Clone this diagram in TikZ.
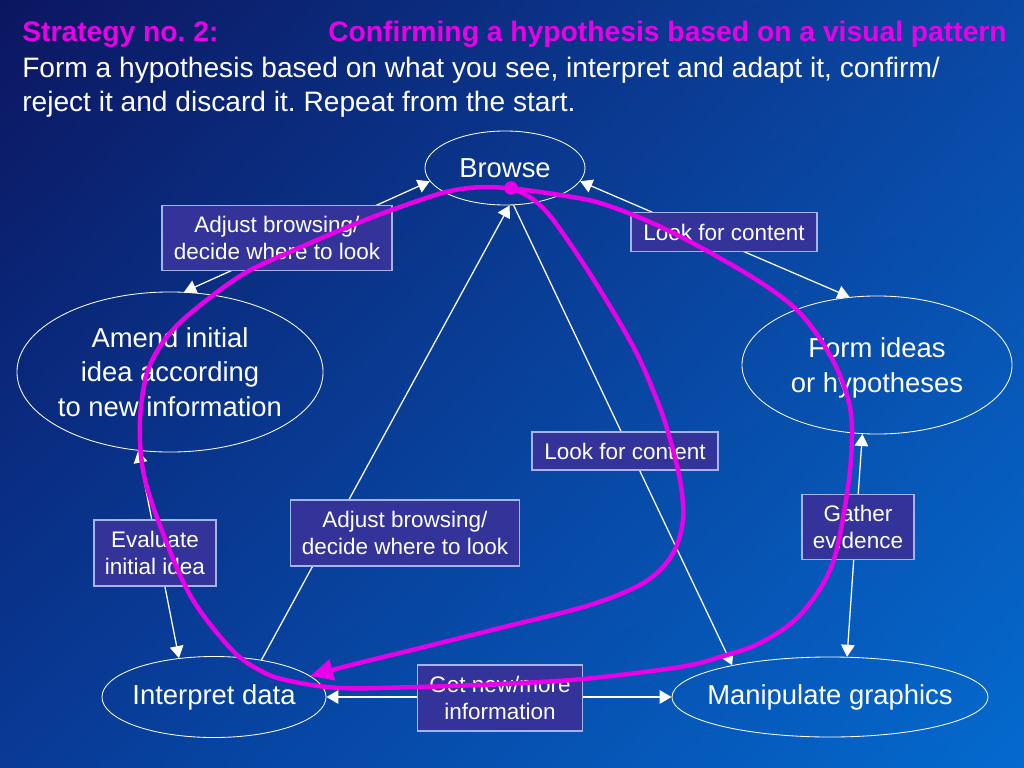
\documentclass[tikz,border=0pt]{standalone}
\usepackage{fontspec}
\setmainfont{Liberation Sans}
\frenchspacing
\usetikzlibrary{arrows.meta,positioning,shapes.geometric,shadings}
\definecolor{slidetl}{RGB}{12,22,96}
\definecolor{slidetr}{RGB}{10,72,165}
\definecolor{slidebl}{RGB}{8,58,150}
\definecolor{slidebr}{RGB}{4,106,206}
\definecolor{tagfill}{RGB}{51,51,153}
\definecolor{tagline}{RGB}{165,180,235}
\definecolor{pathpink}{RGB}{232,0,232}

\begin{document}
\begin{tikzpicture}[x=0.025cm,y=-0.025cm,>={Triangle[length=0.3cm,width=0.34cm]},
  stage/.style={draw=white,line width=0.6pt,ellipse,inner sep=0pt},
  stagetext/.style={text=white,align=center,font=\fontsize{19.5}{24.5}\selectfont},
  tag/.style={draw=tagline,line width=0.8pt,fill=tagfill,text=white,align=center,inner sep=0pt,font=\fontsize{16}{19.5}\selectfont},
  link/.style={white,line width=0.9pt},
  trail/.style={pathpink,line width=3.2pt,line cap=round},
  headline/.style={anchor=base west,inner sep=0pt,font=\fontsize{20}{24}\selectfont}]
\shade[upper left=slidetl,upper right=slidetr,lower left=slidebl,lower right=slidebr] (0,0) rectangle (1024,768);
\useasboundingbox (0,0) rectangle (1024,768);

% heading
\node[headline,text=pathpink,font=\bfseries\fontsize{20.1}{24}\selectfont] (strat) at (22,42) {Strategy no. 2:};
\node[headline,text=pathpink,font=\bfseries\fontsize{20.1}{24}\selectfont] (confirm) at (328,42) {Confirming a hypothesis based on a visual pattern};
\node[headline,text=white] (sub1) at (22,78) {Form a hypothesis based on what you see, interpret and adapt it, confirm/};
\node[headline,text=white] (sub2) at (22,112) {reject it and discard it. Repeat from the start.};

% stages
\node[stage,minimum width=4cm,minimum height=1.85cm,label={[stagetext,name=browsetxt]center:Browse}] (browse) at (505,168) {};
\node[stage,minimum width=7.65cm,minimum height=4cm,label={[stagetext,name=amendtxt]center:Amend initial\\idea according\\to new information}] (amend) at (170,372) {};
\node[stage,minimum width=6.75cm,minimum height=3.45cm,label={[stagetext,name=formtxt,yshift=-2pt]center:Form ideas\\or hypotheses}] (form) at (877,365) {};
\node[stage,minimum width=5.6cm,minimum height=2.025cm,label={[stagetext,name=interptxt]center:Interpret data}] (interp) at (214,697) {};
\node[stage,minimum width=7.9cm,minimum height=2cm,label={[stagetext,name=maniptxt]center:Manipulate graphics}] (manip) at (830,697) {};

% links
\draw[link,<->] (browse.190) -- (amend.80);
\draw[link,<->] (browse.350) -- (form.112);
\draw[link,->] (interp.38) -- (browse.277);
\draw[link,->] (browse.283) -- (manip.162);
\draw[link,<->] (amend.248) -- (interp.132);
\draw[link,<->] (form.258) -- (manip.67);
\draw[link,<->] (interp) -- (manip);

% link tags
\node[tag,minimum width=5.75cm,minimum height=1.625cm] (adjusttop) at (277,238) {Adjust browsing/\\decide where to look};
\node[tag,minimum width=4.65cm,minimum height=0.975cm] (looktop) at (724,232) {Look for content};
\node[tag,minimum width=4.65cm,minimum height=0.95cm] (lookmid) at (625,451) {Look for content};
\node[tag,minimum width=5.725cm,minimum height=1.65cm] (adjustmid) at (405,533) {Adjust browsing/\\decide where to look};
\node[tag,minimum width=3.05cm,minimum height=1.65cm] (evaluate) at (155,553) {Evaluate\\initial idea};
\node[tag,minimum width=2.8cm,minimum height=1.625cm] (gather) at (858,527) {Gather\\evidence};
\node[tag,minimum width=4.125cm,minimum height=1.65cm] (getnew) at (500,698) {Get new/more\\information};

% the loop
\fill[pathpink] (511,188) circle[radius=0.17cm];
\draw[trail,-{Triangle[length=0.58cm,width=0.52cm]}] plot[smooth,tension=0.55] coordinates {
  (511,188) (560,195) (600,203) (650,222) (700,247) (760,282) (800,313) (830,355)
  (847,395) (852,430) (848,487) (832,565) (800,615) (760,643) (720,657) (680,667)
  (583,679) (500,684) (418,687) (340,688) (290,681) (263,672) (232,650) (190,595)
  (158,520) (143,470) (140,420) (148,370) (170,333) (203,303) (245,273) (290,252)
  (350,226) (400,207) (450,191) (490,187) (520,192) (545,210) (573,248) (605,298)
  (635,350) (655,395) (668,432) (680,480) (683,520) (672,555) (645,582) (590,605)
  (500,628) (420,648) (355,664) (310,676)};
\end{tikzpicture}
\end{document}
